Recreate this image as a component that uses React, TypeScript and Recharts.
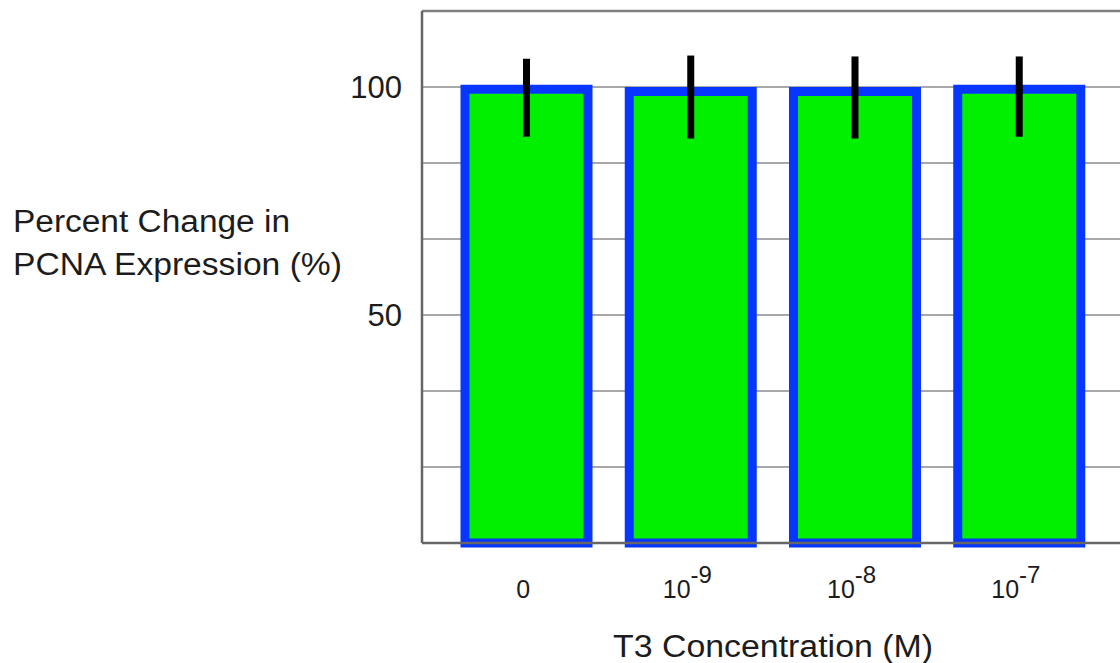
import React from "react"
import {
  BarChart, Bar, XAxis, YAxis, CartesianGrid, ErrorBar, ReferenceLine, Label,
} from "recharts"

const concentrations = ["0", "10^-9", "10^-8", "10^-7"]
const pcnaPercent = [99.5, 99, 99, 99.5]
const errLow = [10.4, 10.3, 10.3, 10.4]
const errHigh = [6.7, 7.9, 7.7, 7.2]
const yTicks = [0, 16.67, 33.33, 50, 66.67, 83.33, 100, 116.67]
const yLabelTicks = [50, 100]

const data = concentrations.map((c, i) => ({
  conc: c,
  pcna: pcnaPercent[i],
  err: [errLow[i], errHigh[i]],
}))

const FONT = "'Liberation Sans', Arial, sans-serif"
const INK = "#1c1c1c"

function ConcTick({ x, y, payload }: any) {
  const [base, exp] = String(payload.value).split("^")
  return (
    <text x={x - 3} y={y + 53} textAnchor="middle" fontFamily={FONT} fontSize={25} fill={INK}>
      <tspan>{base}</tspan>
      {exp && <tspan dy={-15} fontSize={24}>{exp}</tspan>}
    </text>
  )
}

function YTitle() {
  return (
    <g fontFamily={FONT} fontSize={31} fill={INK}>
      <text x={13} y={232} textLength={277} lengthAdjust="spacingAndGlyphs">Percent Change in</text>
      <text x={13} y={275} textLength={329} lengthAdjust="spacingAndGlyphs">PCNA Expression (%)</text>
    </g>
  )
}

function XTitle() {
  return (
    <text x={613} y={657} fontFamily={FONT} fontSize={31} fill={INK}
      textLength={320} lengthAdjust="spacingAndGlyphs">
      T3 Concentration (M)
    </text>
  )
}

export default function App() {
  return (
    <div style={{ position: "absolute", left: 0, top: 0, background: "#fff" }}>
      <BarChart
        width={1120}
        height={663}
        data={data}
        margin={{ top: 11, right: 0, bottom: 0, left: 0 }}
      >
        <CartesianGrid vertical={false} stroke="#a8a8a8" strokeWidth={2} />
        <XAxis
          dataKey="conc"
          height={120}
          padding={{ left: 22, right: 19 }}
          axisLine={{ stroke: "#666", strokeWidth: 2.5 }}
          tickLine={false}
          tickSize={0}
          tick={<ConcTick />}
          interval={0}
        >
          <Label content={<XTitle />} />
        </XAxis>
        <YAxis
          width={422}
          domain={[0, 116.67]}
          ticks={yTicks}
          interval={0}
          axisLine={{ stroke: "#666", strokeWidth: 2.5 }}
          tickLine={false}
          tickSize={0}
          tickMargin={20}
          tick={{ fontFamily: FONT, fontSize: 31, fill: INK }}
          tickFormatter={(v: number) => (yLabelTicks.includes(v) ? String(v) : "")}
        >
          <Label content={<YTitle />} />
        </YAxis>
        <ReferenceLine y={116.67} stroke="#808080" strokeWidth={2.5} />
        <Bar
          dataKey="pcna"
          barSize={123}
          fill="#00f000"
          stroke="#0636ff"
          strokeWidth={9}
          isAnimationActive={false}
        >
          <ErrorBar dataKey="err" width={0} stroke="#000" strokeWidth={7} direction="y" />
        </Bar>
      </BarChart>
    </div>
  )
}
